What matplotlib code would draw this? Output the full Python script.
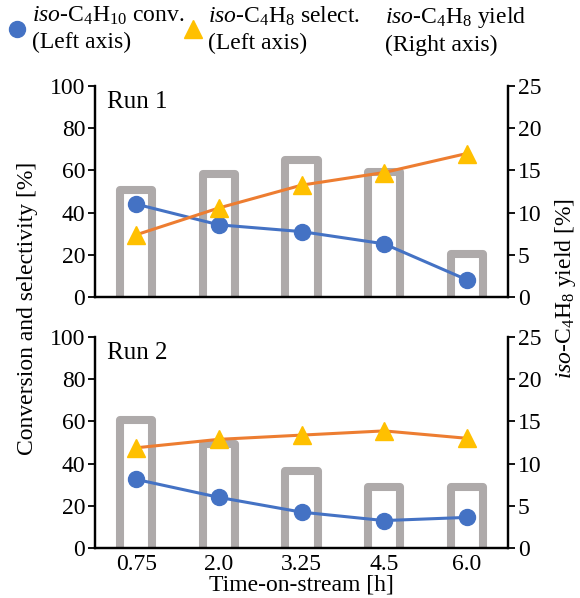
import matplotlib
matplotlib.use("Agg")
import matplotlib.pyplot as plt
from matplotlib.lines import Line2D
import numpy as np

plt.rcParams['font.family'] = ['Liberation Serif', 'DejaVu Serif']
plt.rcParams['mathtext.fontset'] = 'custom'
plt.rcParams['mathtext.rm'] = 'Liberation Serif'
plt.rcParams['mathtext.it'] = 'Liberation Serif:italic'
plt.rcParams['font.size'] = 17

categories = ['0.75', '2.0', '3.25', '4.5', '6.0']
run_labels = ['Run 1', 'Run 2']
conv = [[44, 34.2, 31, 25.2, 8.2],
        [32.5, 24, 17, 13, 14.5]]
select = [[29.5, 42.2, 53, 59, 68],
          [47.5, 51.5, 53.5, 55.5, 52]]
yield_ = [[12.7, 14.6, 16.2, 14.8, 5.1],
          [15.2, 12.3, 9.1, 7.2, 7.2]]

BLUE = '#4472C4'
ORANGE = '#ED7D31'
GOLD = '#FFC000'
GRAY = '#AEAAAA'

fig = plt.figure(figsize=(5.8, 5.98), dpi=100)
L, W = 95 / 580, (508 - 95) / 580
H = 211 / 598
bottoms = [1 - 297 / 598, 1 - 548 / 598]
x = np.arange(len(categories))

for i in range(2):
    ax = fig.add_axes([L, bottoms[i], W, H])
    ax2 = ax.twinx()
    ax.set_zorder(ax2.get_zorder() + 1)
    ax.patch.set_visible(False)

    ax2.bar(x, np.array(yield_[i]) + 1, bottom=-1, width=0.39, facecolor='white',
            edgecolor=GRAY, linewidth=5.8, joinstyle='round', zorder=1)
    ax.plot(x, conv[i], color=BLUE, lw=2.2, marker='o', ms=11.5, zorder=3)
    ax.plot(x, select[i], color=ORANGE, lw=2.2, marker='^', ms=13,
            markerfacecolor=GOLD, markeredgecolor=GOLD, zorder=4)

    ax.set_xlim(-0.5, len(categories) - 0.5)
    ax.set_ylim(0, 100)
    ax2.set_ylim(0, 25)
    ax.set_yticks([0, 20, 40, 60, 80, 100])
    ax2.set_yticks([0, 5, 10, 15, 20, 25])
    ax.set_xticks(x)
    for a in (ax, ax2):
        a.spines['top'].set_visible(False)
        for s in a.spines.values():
            s.set_linewidth(1.6)
        a.tick_params(axis='y', direction='out', length=5, width=1.3, pad=2)
    ax.tick_params(axis='x', length=0, pad=4)
    if i == 0:
        ax.set_xticklabels([])
    else:
        ax.set_xticklabels(categories)
        ax.set_xlabel('Time-on-stream [h]', labelpad=0)
    ax.text(0.03, 0.975, run_labels[i], transform=ax.transAxes, ha='left', va='top',
            fontsize=18)

fig.text(28 / 580, 1 - 308 / 598, 'Conversion and selectivity [%]', rotation=90,
         ha='center', va='center')
fig.text(566 / 580, 1 - 288 / 598, r'$\mathit{iso}$-C$_4$H$_8$ yield [%]', rotation=90,
         ha='center', va='center')

handles = [Line2D([], [], color=BLUE, marker='o', ls='none', ms=11.5),
           Line2D([], [], color=GOLD, marker='^', ls='none', ms=13),
           Line2D([], [], color='none', marker='none', ls='none')]
labels = ['$\\mathit{iso}$-C$_4$H$_{10}$ conv.\n(Left axis)',
          '$\\mathit{iso}$-C$_4$H$_8$ select.\n(Left axis)',
          '$\\mathit{iso}$-C$_4$H$_8$ yield\n(Right axis)']
leg_x = [5, 181, 358]
for h, lab, lx in zip(handles, labels, leg_x):
    leg = fig.legend([h], [lab], frameon=False, loc='upper left',
                     bbox_to_anchor=(lx / 580, 1 - 5 / 598), handlelength=1.0,
                     handletextpad=0.15, borderaxespad=0, borderpad=0)
    for t in leg.get_texts():
        t.set_linespacing(1.3)

fig.savefig('out.png', dpi=100)
